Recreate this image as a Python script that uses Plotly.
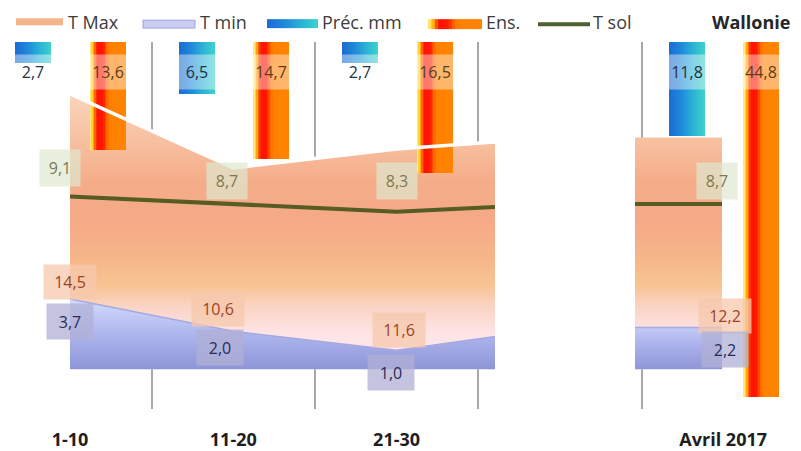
import plotly.graph_objects as go

# ---------------- data ----------------
CATEGORIES = ["1-10", "11-20", "21-30", "Avril 2017"]
T_MAX = [14.5, 10.6, 11.6, 12.2]
T_MIN = [3.7, 2.0, 1.0, 2.2]
T_SOL = [9.1, 8.7, 8.3, 8.7]
PRECIP_MM = [2.7, 6.5, 2.7, 11.8]
ENSOLEILLEMENT = [13.6, 14.7, 16.5, 44.8]
SERIES_NAMES = ["T Max", "T min", "Préc. mm", "Ens.", "T sol"]
REGION = "Wallonie"

MONTH = CATEGORIES[3]
AXIS_SLOTS = CATEGORIES[:3] + [" "] + [MONTH]   # blank slot separates the month

# ---------------- geometry (layout) ----------------
W, H = 801, 451
MT, MB = 42, 39
PLOT_TOP, PLOT_BOT = MT, H - MB
PLOT_H = PLOT_BOT - PLOT_TOP

CAT0_PX, CAT_STEP_PX = 70.0, 163.3


def cat_at(px):
    return (px - CAT0_PX) / CAT_STEP_PX


T_ZERO_PX, T_PX = 372.0, 19.15
T_RANGE = [(T_ZERO_PX - PLOT_BOT) / T_PX, (T_ZERO_PX - PLOT_TOP) / T_PX]
BAR_ZERO_PX, BAR_PX = 42.0, 8.0
BAR_RANGE = [(PLOT_BOT - BAR_ZERO_PX) / BAR_PX, (PLOT_TOP - BAR_ZERO_PX) / BAR_PX]

DECADE_CLIP_PX = 495
MONTH_AREA_PX = (635, 722)
MONTH_SPAN = [0, 1]

BAR_W = 36 / CAT_STEP_PX
PRECIP_OFF = -0.334
ENS_OFF = 0.122
N_SLICES = 24

FONT = "Open Sans"

# ---------------- colours ----------------
TMAX_SCALE = [[0.0, "#fdeaf0"], [0.14, "#fde4e6"], [0.24, "#fad3c2"], [0.31, "#f8c492"],
              [0.41, "#f6b689"], [0.55, "#f5a986"], [0.69, "#f5ad89"], [0.83, "#f7c0a0"],
              [1.0, "#f9d4bb"]]
TMIN_SCALE = [[0.0, "#8c92d5"], [0.5, "#abb3ec"], [1.0, "#d0d9fc"]]
PRECIP_SCALE = [[0.0, "#1b6bd2"], [0.35, "#1f8ada"], [0.65, "#2ab0d6"], [1.0, "#3dd2cb"]]
ENS_SCALE = [[0.0, "#fff0a0"], [0.08, "#ffcc10"], [0.16, "#ff4a00"], [0.22, "#ff1200"],
             [0.38, "#ff1a00"], [0.48, "#ff6a00"], [0.56, "#ff8000"], [1.0, "#ff8400"]]
TSOL_COLOR = "#565c22"


def hex_rgb(h):
    h = h.lstrip('#')
    return tuple(int(h[i:i + 2], 16) for i in (0, 2, 4))


def sample(scale, t):
    for (t0, c0), (t1, c1) in zip(scale, scale[1:]):
        if t <= t1:
            f = 0 if t1 == t0 else (t - t0) / (t1 - t0)
            a, b = hex_rgb(c0), hex_rgb(c1)
            return 'rgb(%d,%d,%d)' % tuple(round(a[k] + (b[k] - a[k]) * f) for k in range(3))
    return scale[-1][1]


def fmt(v):
    return f"{v:.1f}".replace(".", ",")


fig = go.Figure()

# ---- decade areas (clipped subplot x2/y2) ----
tmax_grad = dict(type="vertical", colorscale=TMAX_SCALE, start=0, stop=max(T_MAX))
fig.add_trace(go.Scatter(x=CATEGORIES, y=T_MAX, xaxis="x2", yaxis="y2", mode="lines",
                         line=dict(width=0), fill="tozeroy", fillgradient=tmax_grad,
                         hoverinfo="skip", showlegend=False))
fig.add_trace(go.Scatter(x=CATEGORIES, y=T_MIN, xaxis="x2", yaxis="y2", mode="lines",
                         line=dict(width=1.5, color="#a4aae0"), fill="tozeroy",
                         fillgradient=dict(type="vertical", colorscale=TMIN_SCALE, start=0, stop=max(T_MIN)),
                         hoverinfo="skip", showlegend=False))

# ---- month areas (x3/y2) ----
fig.add_trace(go.Scatter(x=MONTH_SPAN, y=[T_MAX[3]] * 2, xaxis="x3", yaxis="y2", mode="lines",
                         line=dict(width=0), fill="tozeroy", fillgradient=tmax_grad,
                         hoverinfo="skip", showlegend=False))
fig.add_trace(go.Scatter(x=MONTH_SPAN, y=[T_MIN[3]] * 2, xaxis="x3", yaxis="y2", mode="lines",
                         line=dict(width=1.5, color="#a4aae0"), fill="tozeroy",
                         fillgradient=dict(type="vertical", colorscale=TMIN_SCALE, start=0, stop=T_MIN[3] * 1.3),
                         hoverinfo="skip", showlegend=False))
fig.add_trace(go.Scatter(x=MONTH_SPAN, y=[T_SOL[3]] * 2, xaxis="x3", yaxis="y2", mode="lines",
                         line=dict(width=4, color=TSOL_COLOR), hoverinfo="skip", showlegend=False))

# ---- hanging bars (x4/y3), drawn as gradient slices ----
for values, off, scale in ((PRECIP_MM, PRECIP_OFF, PRECIP_SCALE), (ENSOLEILLEMENT, ENS_OFF, ENS_SCALE)):
    step = BAR_W / N_SLICES
    for i in range(N_SLICES):
        w = min(step * 1.4, BAR_W - i * step)
        fig.add_trace(go.Bar(x=CATEGORIES, y=values, xaxis="x4", yaxis="y3",
                             offset=off + i * step, width=w,
                             marker=dict(color=sample(scale, (i + 0.5) / N_SLICES), line=dict(width=0)),
                             hoverinfo="skip", showlegend=False))

# ---- lines above bars (x5/y2, clipped like x2) ----
fig.add_trace(go.Scatter(x=CATEGORIES, y=T_MAX, xaxis="x5", yaxis="y2", mode="lines",
                         line=dict(width=3.5, color="white"), hoverinfo="skip", showlegend=False))
fig.add_trace(go.Scatter(x=CATEGORIES, y=T_SOL, xaxis="x5", yaxis="y2", mode="lines",
                         line=dict(width=4, color=TSOL_COLOR), hoverinfo="skip", showlegend=False))

# ---------------- annotations ----------------
ann = []
TSOL_SHIFT = [(-10, 28), (-6, 23), (0, 31), (-6, 23)]
TMAX_SHIFT = [(0, 17), (-15, 22), (2, 20), (2, 12)]
TMIN_SHIFT = [(0, -22), (-13, -16), (-6, -22), (2, -22)]
for i, cat in enumerate(CATEGORIES):
    xi = AXIS_SLOTS.index(cat)
    ann.append(dict(x=xi, y=T_SOL[i], xref="x", yref="y2", text=fmt(T_SOL[i]), showarrow=False,
                    xshift=TSOL_SHIFT[i][0], yshift=TSOL_SHIFT[i][1], width=38, height=34,
                    bgcolor="rgba(222,232,208,0.7)", font=dict(family=FONT, size=16, color="#7a7a52")))
    ann.append(dict(x=xi, y=T_MIN[i], xref="x", yref="y2", text=fmt(T_MAX[i]), showarrow=False,
                    xshift=TMAX_SHIFT[i][0], yshift=TMAX_SHIFT[i][1], width=50, height=32,
                    bgcolor="rgba(246,200,172,0.75)", font=dict(family=FONT, size=16, color="#9c4428")))
    ann.append(dict(x=xi, y=T_MIN[i], xref="x", yref="y2", text=fmt(T_MIN[i]), showarrow=False,
                    xshift=TMIN_SHIFT[i][0], yshift=TMIN_SHIFT[i][1], width=44, height=33,
                    bgcolor="rgba(176,176,214,0.75)", font=dict(family=FONT, size=16, color="#262b58")))
    for values, off, col in ((PRECIP_MM, PRECIP_OFF, "#263040"), (ENSOLEILLEMENT, ENS_OFF, "#5b3d1e")):
        ann.append(dict(x=xi + off + BAR_W / 2, y=0, xref="x4", yref="y3", text=fmt(values[i]),
                        showarrow=False, yshift=-30, width=36, height=32,
                        bgcolor="rgba(255,255,255,0.42)", font=dict(family=FONT, size=16, color=col)))


def px(x):
    return x / W


def py(y):
    return (PLOT_BOT - y) / PLOT_H


# ---------------- legend (drawn) ----------------
shapes = []
shapes.append(dict(type="rect", xref="paper", yref="paper", x0=px(16), x1=px(63), y0=py(18), y1=py(25),
                   fillcolor="#f5b48a", line=dict(width=0)))
shapes.append(dict(type="rect", xref="paper", yref="paper", x0=px(143), x1=px(195), y0=py(20), y1=py(28),
                   fillcolor="#c9cdf3", line=dict(color="#9da3d8", width=1)))
for (x0, x1, y0, y1, scale) in ((267, 318, 19, 28, PRECIP_SCALE), (428, 482, 19, 29, ENS_SCALE)):
    n = 16
    st = (x1 - x0) / n
    for i in range(n):
        shapes.append(dict(type="rect", xref="paper", yref="paper", x0=px(x0 + i * st),
                           x1=px(x0 + (i + 1.3) * st if i < n - 1 else x1),
                           y0=py(y0), y1=py(y1), fillcolor=sample(scale, (i + 0.5) / n), line=dict(width=0)))
shapes.append(dict(type="line", xref="paper", yref="paper", x0=px(538), x1=px(590), y0=py(24), y1=py(24),
                   line=dict(color="#4f6130", width=4)))

for name, x0 in zip(SERIES_NAMES, (66, 198, 320, 484, 591)):
    ann.append(dict(x=px(x0), y=py(22), xref="paper", yref="paper", xanchor="left", yanchor="middle",
                    text=name, showarrow=False, font=dict(family=FONT, size=18, color="#3c3c3c")))
ann.append(dict(x=px(751), y=py(22), xref="paper", yref="paper", xanchor="center", yanchor="middle",
                text=REGION, showarrow=False,
                font=dict(family=FONT, size=18, color="#262626", weight="bold")))

cat_axis = dict(type="category", categoryorder="array", categoryarray=AXIS_SLOTS,
                range=[cat_at(0), cat_at(W)], fixedrange=True)
clip_axis = dict(type="category", categoryorder="array", categoryarray=CATEGORIES,
                 range=[cat_at(0), cat_at(DECADE_CLIP_PX)], domain=[0, DECADE_CLIP_PX / W],
                 anchor="y2", visible=False, fixedrange=True)

fig.update_layout(
    width=W, height=H, margin=dict(l=0, r=0, t=MT, b=MB, pad=0),
    paper_bgcolor="white", plot_bgcolor="rgba(0,0,0,0)", barmode="overlay", bargap=0,
    showlegend=False,
    xaxis=dict(**cat_axis, domain=[0, 1], anchor="y", tickson="boundaries", showgrid=True,
               gridcolor="#a8a8a8", gridwidth=2, ticks="", showline=False, zeroline=False,
               ticklabelstandoff=18,
               tickfont=dict(family=FONT, size=18, color="#1e1e1e", weight="bold")),
    yaxis=dict(domain=[0, 1], anchor="x", range=[0, 1], visible=False, fixedrange=True),
    xaxis2=clip_axis,
    yaxis2=dict(domain=[0, 1], anchor="x2", range=T_RANGE, visible=False, fixedrange=True),
    xaxis3=dict(domain=[MONTH_AREA_PX[0] / W, MONTH_AREA_PX[1] / W], range=MONTH_SPAN, anchor="y2",
                visible=False, fixedrange=True),
    xaxis4=dict(**cat_axis, domain=[0, 1], anchor="y3", visible=False),
    yaxis3=dict(domain=[0, 1], anchor="x4", range=BAR_RANGE, visible=False, fixedrange=True),
    xaxis5=clip_axis,
    shapes=shapes,
    annotations=ann,
)

fig.write_html("out.html", config={"displayModeBar": False},
               post_script="document.body.style.margin='0';document.body.style.padding='0';")
